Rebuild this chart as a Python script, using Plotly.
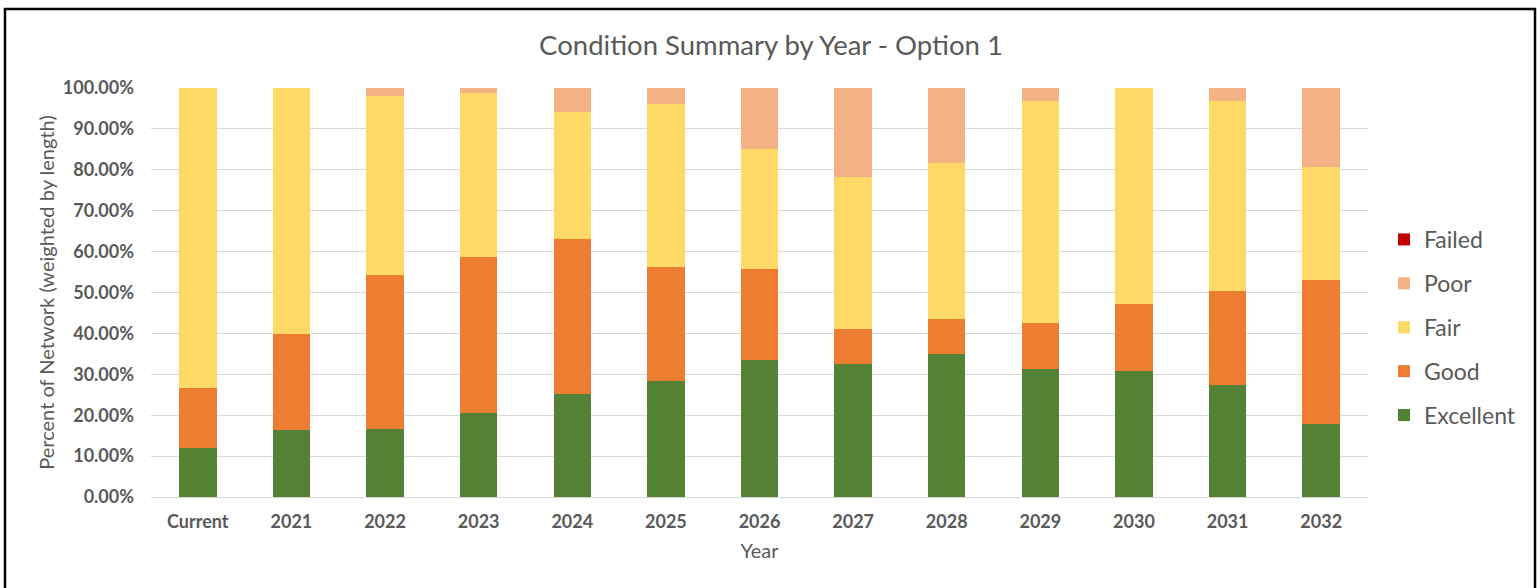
import plotly.graph_objects as go

categories = ["Current", "2021", "2022", "2023", "2024", "2025", "2026",
              "2027", "2028", "2029", "2030", "2031", "2032"]

excellent = [11.9, 16.4, 16.6, 20.5, 25.2, 28.4, 33.5, 32.4, 35.0, 31.2, 30.7, 27.5, 17.9]
good      = [14.8, 23.5, 37.7, 38.3, 37.8, 27.9, 22.2, 8.6, 8.4, 11.3, 16.6, 22.8, 35.1]
fair      = [73.3, 60.1, 43.7, 40.0, 31.1, 39.7, 29.4, 37.3, 38.2, 54.4, 52.7, 46.6, 27.8]
poor      = [0.0, 0.0, 2.0, 1.2, 5.9, 4.0, 14.9, 21.7, 18.4, 3.1, 0.0, 3.1, 19.2]
failed    = [0.0] * 13

series = [
    ("Excellent", excellent, "#548235"),
    ("Good", good, "#ED7D31"),
    ("Fair", fair, "#FFD966"),
    ("Poor", poor, "#F4B183"),
    ("Failed", failed, "#C00000"),
]

FONT = "Lato, Open Sans, sans-serif"
GREY = "#595959"

fig = go.Figure()
n = len(series)
for i, (name, vals, color) in enumerate(series):
    fig.add_trace(go.Bar(
        x=categories, y=vals, name=name, legendgroup=name,
        legendrank=1000 + (n - i),
        marker=dict(color=color, line=dict(width=0)),
    ))

fig.update_layout(
    barmode="stack",
    bargap=0.6,
    width=1539, height=588,
    paper_bgcolor="white", plot_bgcolor="white",
    margin=dict(l=151, r=171, t=88, b=91),
    font=dict(family=FONT, color=GREY),
    title=dict(text="Condition Summary by Year - Option 1",
               x=771 / 1539, xanchor="center", y=1 - 45 / 588, yanchor="middle",
               font=dict(size=27.5, color=GREY, family=FONT)),
    legend=dict(traceorder="grouped", tracegroupgap=11,
                x=(1384 - 151) / 1217, xanchor="left", y=0.5 + (292 - 327) / 409, yanchor="middle",
                font=dict(size=23, color=GREY, family=FONT),
                itemwidth=30, bgcolor="rgba(0,0,0,0)"),
    showlegend=True,
)

fig.update_xaxes(
    type="category",
    showgrid=False, showline=False, ticks="", ticklabelstandoff=12,
    tickfont=dict(size=18, color=GREY, family=FONT, weight="bold"),
    title=dict(text="Year", font=dict(size=20, color=GREY, family=FONT), standoff=12),
)
fig.update_yaxes(
    range=[0, 100], dtick=10, tickformat=".2f", ticksuffix="%",
    showgrid=True, gridcolor="#D9D9D9", gridwidth=1,
    zeroline=True, zerolinecolor="#D9D9D9", zerolinewidth=1,
    showline=False, ticks="", ticklabelstandoff=16,
    tickfont=dict(size=18, color=GREY, family=FONT, weight="bold"),
    title=dict(text="Percent of Network (weighted by length)",
               font=dict(size=20, color=GREY, family=FONT), standoff=2),
)

# outer chart border
fig.add_shape(type="rect", xref="paper", yref="paper",
              x0=(5 - 151) / 1217, x1=(1535 - 151) / 1217,
              y0=(497 - 600) / 409, y1=(497 - 9) / 409,
              line=dict(color="black", width=2.5), fillcolor="rgba(0,0,0,0)", layer="above")

fig.write_html("out.html", config={"displayModeBar": False},
               post_script="document.body.style.margin='0px';")
